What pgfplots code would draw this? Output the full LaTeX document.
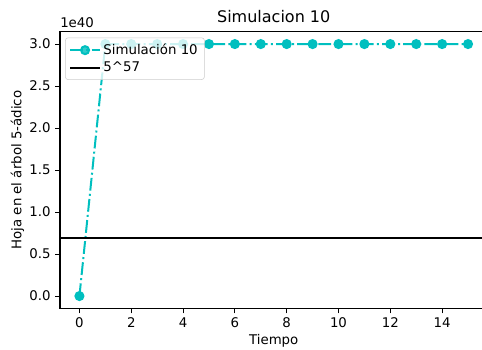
\documentclass[border=0pt]{standalone}
\usepackage{fontspec}
\setmainfont{DejaVu Sans}
\usepackage{pgfplots}
\pgfplotsset{compat=1.18}
\definecolor{mplc}{rgb}{0,0.75,0.75}
\begin{document}
\begin{tikzpicture}
\path[use as bounding box, clip] (-45pt,-30.3pt) rectangle (316.5pt,231.5pt);
\begin{axis}[
  name=ax,
  at={(0pt,0pt)}, anchor=south west,
  scale only axis,
  width=320.6pt, height=207.9pt,
  xmin=-0.75, xmax=15.75,
  ymin=-0.15, ymax=3.15,
  xtick={0,2,...,14},
  ytick={0,0.5,...,3.0},
  scaled y ticks=false,
  /pgf/number format/assume math mode=true,
  yticklabel style={/pgf/number format/fixed, /pgf/number format/fixed zerofill, /pgf/number format/precision=1},
  tick align=outside,
  tick pos=left,
  major tick length=3.5pt,
  tick style={black, line width=0.8pt},
  axis line style={line width=0.8pt},
  ticklabel style={font=\fontsize{10}{12}\selectfont},
  label style={font=\fontsize{10}{12}\selectfont},
  xlabel={Tiempo},
  xlabel style={yshift=2pt},
  ylabel={Hoja en el árbol 5-ádico},
  ylabel style={yshift=-3pt},
  title={Simulacion 10},
  title style={font=\fontsize{12}{14}\selectfont, yshift=-3pt},
  legend cell align=left,
  legend image code/.code={\draw[mark repeat=2,mark phase=2] plot coordinates {(0pt,0pt) (11pt,0pt) (22pt,0pt)};},
  legend style={at={(0.012,0.978)}, anchor=north west, draw=black!20, fill=white, fill opacity=0.8, text opacity=1, rounded corners=2pt, font=\fontsize{10}{12}\selectfont, inner xsep=3pt, inner ysep=2.5pt, row sep=0pt, /tikz/every even column/.append style={column sep=2pt}},
]
\addplot[color=mplc, line width=1.5pt, dash pattern=on 9.6pt off 2.4pt on 1.5pt off 2.4pt, mark=*, mark size=3pt, mark options={solid, fill=mplc, draw=mplc}]
  coordinates {(0,0) (1,3.0) (2,3.0) (3,3.0) (4,3.0) (5,3.0) (6,3.0) (7,3.0) (8,3.0) (9,3.0) (10,3.0) (11,3.0) (12,3.0) (13,3.0) (14,3.0) (15,3.0)};
\addlegendentry{Simulación 10}
\addplot[black, line width=1.5pt] coordinates {(-0.75,0.6939) (15.75,0.6939)};
\addlegendentry{5\^{}57}
\end{axis}
\node[anchor=south west, inner sep=0pt, font=\fontsize{10}{12}\selectfont] at ([yshift=3pt]ax.north west) {1e40};
\end{tikzpicture}
\end{document}
